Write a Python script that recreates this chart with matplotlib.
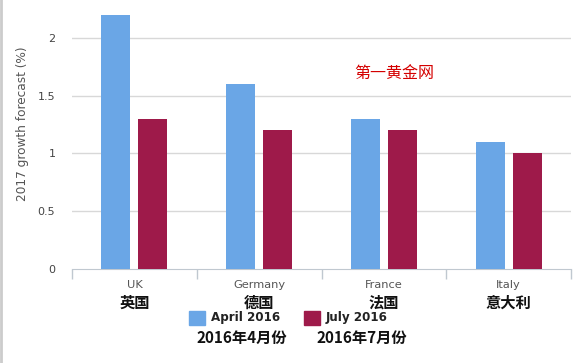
import numpy as np
import matplotlib.pyplot as plt
from matplotlib.patches import Rectangle
from matplotlib.lines import Line2D

countries = ['UK', 'Germany', 'France', 'Italy']
countries_cn = ['英国', '德国', '法国', '意大利']
april_2016 = [2.2, 1.6, 1.3, 1.1]
july_2016 = [1.3, 1.2, 1.2, 1.0]
series_names = ['April 2016', 'July 2016']
series_names_cn = ['2016年4月份', '2016年7月份']
y_ticks = [0, 0.5, 1, 1.5, 2]
y_tick_labels = ['0', '0.5', '1', '1.5', '2']

BLUE = '#6aa6e6'
RED = '#9e1a4a'
CJK = ['Noto Sans CJK SC', 'DejaVu Sans']


def main():
    fig = plt.figure(figsize=(5.88, 3.63), dpi=100)
    ax = fig.add_axes([72 / 588, 1 - 269 / 363, (571 - 72) / 588, (269 - 9) / 363])

    x = np.arange(len(countries))
    w = 0.232
    ax.bar(x - 0.148, april_2016, w, color=BLUE, zorder=3)
    ax.bar(x + 0.148, july_2016, w, color=RED, zorder=3)

    ax.set_xlim(-0.5, len(countries) - 0.5)
    ax.set_ylim(0, 2.25)
    ax.set_yticks(y_ticks)
    ax.set_yticklabels(y_tick_labels)
    ax.tick_params(axis='y', length=0, pad=12, labelsize=8, labelcolor='#444444')
    for v in y_ticks[1:]:
        ax.axhline(v, color='#d8d8d8', lw=1, zorder=1)

    ax.set_xticks(x)
    ax.set_xticklabels(countries)
    ax.tick_params(axis='x', length=0, pad=8, labelsize=8.2, labelcolor='#555555')
    ax.set_xticks(np.arange(len(countries) + 1) - 0.5, minor=True)
    ax.tick_params(axis='x', which='minor', length=7.5, width=1, color='#c0c8d0')

    for s in ['top', 'right', 'left']:
        ax.spines[s].set_visible(False)
    ax.spines['bottom'].set_color('#c0c8d0')

    ax.set_ylabel('2017 growth forecast (%)', fontsize=8.7, color='#555555')
    ax.yaxis.set_label_coords(-0.086, 0.56)

    trans = ax.get_xaxis_transform()
    for xi, name in zip(x, countries_cn):
        ax.text(xi, -34 / 260, name, transform=trans, ha='center', va='center',
                fontsize=11, fontweight='bold', family=CJK, color='#111111')

    # legend drawn by hand
    for sx, color, name, name_cn, cx in [(189, BLUE, series_names[0], series_names_cn[0], 242),
                                         (304, RED, series_names[1], series_names_cn[1], 362)]:
        fig.patches.append(Rectangle((sx / 588, 1 - 325 / 363), 16 / 588, 14 / 363,
                                     transform=fig.transFigure, color=color))
        fig.text((sx + 22) / 588, 1 - 318 / 363, name, ha='left', va='center',
                 fontsize=8.6, fontweight='bold', color='#222222')
        fig.text(cx / 588, 1 - 338 / 363, name_cn, ha='center', va='center',
                 fontsize=11, fontweight='bold', family=CJK, color='#111111')

    fig.text(394 / 588, 1 - 73 / 363, '第一黄金网', ha='center', va='center',
             fontsize=11.5, family=CJK, color='#d40000')

    fig.lines.append(Line2D([1.5 / 588, 1.5 / 588], [0, 1], transform=fig.transFigure,
                            color='#cccccc', lw=2))

    fig.savefig('out.png', dpi=100)


if __name__ == '__main__':
    main()
